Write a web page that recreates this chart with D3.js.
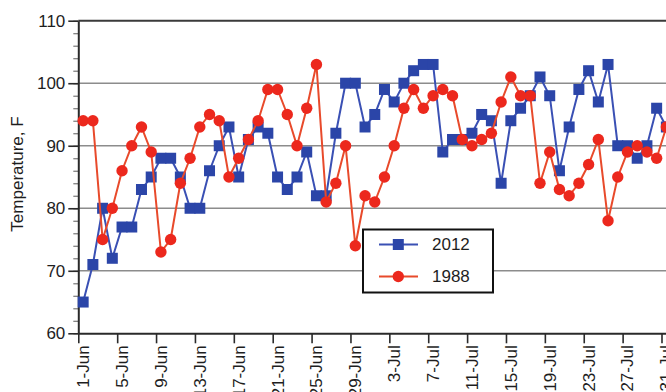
<!DOCTYPE html>
<html>
<head>
<meta charset="utf-8">
<script src="https://cdn.jsdelivr.net/npm/d3@7"></script>
<style>
  html, body { margin: 0; padding: 0; background: #fff; }
  svg { display: block; font-family: "Liberation Sans", Arial, Helvetica, sans-serif; }
</style>
</head>
<body>
<svg id="chart" width="666" height="392"></svg>
<script>
// Daily maximum temperature (°F), 1 June – 31 July
const seriesNames = ["2012", "1988"];

const temps2012 = [65, 71, 80, 72, 77, 77, 83, 85, 88, 88,
                   85, 80, 80, 86, 90, 93, 85, 91, 93, 92,
                   85, 83, 85, 89, 82, 82, 92, 100, 100, 93,
                   95, 99, 97, 100, 102, 103, 103, 89, 91, 91,
                   92, 95, 94, 84, 94, 96, 98, 101, 98, 86,
                   93, 99, 102, 97, 103, 90, 90, 88, 90, 96,
                   93];

const temps1988 = [94, 94, 75, 80, 86, 90, 93, 89, 73, 75,
                   84, 88, 93, 95, 94, 85, 88, 91, 94, 99,
                   99, 95, 90, 96, 103, 81, 84, 90, 74, 82,
                   81, 85, 90, 96, 99, 96, 98, 99, 98, 91,
                   90, 91, 92, 97, 101, 98, 98, 84, 89, 83,
                   82, 84, 87, 91, 78, 85, 89, 90, 89, 88,
                   93];

const xTickLabels = ["1-Jun", "5-Jun", "9-Jun", "13-Jun", "17-Jun", "21-Jun", "25-Jun", "29-Jun",
                     "3-Jul", "7-Jul", "11-Jul", "15-Jul", "19-Jul", "23-Jul", "27-Jul", "31-Jul"];
const yTicks = [60, 70, 80, 90, 100, 110];
const yMinorTicks = d3.range(60, 111, 2);

// Category days (one per reading)
const firstDay = new Date(Date.UTC(2012, 5, 1));
const days = d3.utcDay.range(firstDay, new Date(Date.UTC(2012, 7, 1)));
const parseTick = d3.utcParse("%d-%b-%Y");
const tickDays = xTickLabels.map(l => parseTick(l + "-2012"));

const margin = { left: 78.3, top: 20.7, bottom: 333.3 };
const dayWidth = 9.72;

const x = d3.scaleUtc()
  .domain([firstDay, d3.utcDay.offset(firstDay, 62)])
  .range([margin.left, margin.left + 62 * dayWidth]);
const y = d3.scaleLinear().domain([60, 110]).range([margin.bottom, margin.top]);
const mid = d => d3.utcHour.offset(d, 12);

const svg = d3.select("#chart");
const xMax = x.range()[1];

// Horizontal grid
svg.append("g")
  .selectAll("line")
  .data([70, 80, 90, 100])
  .join("line")
  .attr("x1", margin.left).attr("x2", xMax)
  .attr("y1", d => y(d)).attr("y2", d => y(d))
  .attr("stroke", "#8c8c8c").attr("stroke-width", 1.6);

// Top frame line
svg.append("line")
  .attr("x1", margin.left).attr("x2", xMax)
  .attr("y1", y(110)).attr("y2", y(110))
  .attr("stroke", "#3a3a3a").attr("stroke-width", 2);

// Y axis: minor ticks, then major ticks with labels
const yMinor = svg.append("g")
  .attr("transform", `translate(${margin.left},0)`)
  .call(d3.axisLeft(y).tickValues(yMinorTicks).tickSize(5).tickFormat(""));
yMinor.select(".domain").remove();
yMinor.selectAll(".tick line").attr("stroke", "#777").attr("stroke-width", 1.2);

const yAxis = svg.append("g")
  .attr("transform", `translate(${margin.left},0)`)
  .call(d3.axisLeft(y).tickValues(yTicks).tickSize(10).tickPadding(3).tickSizeOuter(0));
yAxis.select(".domain").attr("stroke", "#2a2a2a").attr("stroke-width", 2);
yAxis.selectAll(".tick line").attr("stroke", "#2a2a2a").attr("stroke-width", 1.6);
yAxis.selectAll(".tick text")
  .attr("fill", "#1e1e1e")
  .style("font-size", "17px");

// X axis: ticks at day boundaries, labels centred on each category
const xAxis = svg.append("g")
  .attr("transform", `translate(0,${margin.bottom})`)
  .call(d3.axisBottom(x).tickValues(tickDays).tickSize(10).tickFormat("").tickSizeOuter(0));
xAxis.select(".domain").attr("stroke", "#2a2a2a").attr("stroke-width", 2);
xAxis.selectAll(".tick line").attr("stroke", "#2a2a2a").attr("stroke-width", 1.6);

svg.append("g")
  .selectAll("text")
  .data(tickDays)
  .join("text")
  .attr("transform", (d, i) => `translate(${x(mid(d))},${margin.bottom + 12}) rotate(-90)`)
  .attr("text-anchor", "end")
  .attr("dy", "0.35em")
  .attr("fill", "#1e1e1e")
  .style("font-size", "17px")
  .text((d, i) => xTickLabels[i]);

// Y title
svg.append("text")
  .attr("transform", "translate(17,174) rotate(-90)")
  .attr("text-anchor", "middle")
  .attr("dy", "0.35em")
  .attr("fill", "#1e1e1e")
  .style("font-size", "17px")
  .text("Temperature, F");

// Series
const blue = "#2b45a8", blueLine = "#3a50b4";
const redDot = "#ec281d", redLine = "#e84a2b";

const line = d3.line()
  .x((d, i) => x(mid(days[i])))
  .y(d => y(d));

svg.append("path")
  .datum(temps2012)
  .attr("d", line)
  .attr("fill", "none")
  .attr("stroke", blueLine)
  .attr("stroke-width", 2);
svg.append("g")
  .selectAll("rect")
  .data(temps2012)
  .join("rect")
  .attr("x", (d, i) => x(mid(days[i])) - 5.5)
  .attr("y", d => y(d) - 5.5)
  .attr("width", 11).attr("height", 11)
  .attr("fill", blue);

svg.append("path")
  .datum(temps1988)
  .attr("d", line)
  .attr("fill", "none")
  .attr("stroke", redLine)
  .attr("stroke-width", 2);
svg.append("g")
  .selectAll("circle")
  .data(temps1988)
  .join("circle")
  .attr("cx", (d, i) => x(mid(days[i])))
  .attr("cy", d => y(d))
  .attr("r", 5.7)
  .attr("fill", redDot);

// Legend
const legend = svg.append("g").attr("transform", "translate(363,229.5)");
legend.append("rect")
  .attr("width", 130).attr("height", 63)
  .attr("fill", "#fff")
  .attr("stroke", "#111").attr("stroke-width", 2);
const entries = [
  { name: seriesNames[0], y: 15, line: blueLine, fill: blue, shape: "rect" },
  { name: seriesNames[1], y: 47, line: redLine, fill: redDot, shape: "circle" }
];
entries.forEach(e => {
  legend.append("line")
    .attr("x1", 16).attr("x2", 55)
    .attr("y1", e.y).attr("y2", e.y)
    .attr("stroke", e.line).attr("stroke-width", 2);
  if (e.shape === "rect") {
    legend.append("rect")
      .attr("x", 35.3 - 5.5).attr("y", e.y - 5.5)
      .attr("width", 11).attr("height", 11)
      .attr("fill", e.fill);
  } else {
    legend.append("circle")
      .attr("cx", 35.3).attr("cy", e.y).attr("r", 5.7)
      .attr("fill", e.fill);
  }
  legend.append("text")
    .attr("x", 69).attr("y", e.y)
    .attr("dy", "0.35em")
    .attr("fill", "#1e1e1e")
    .style("font-size", "17px")
    .text(e.name);
});
</script>
</body>
</html>
